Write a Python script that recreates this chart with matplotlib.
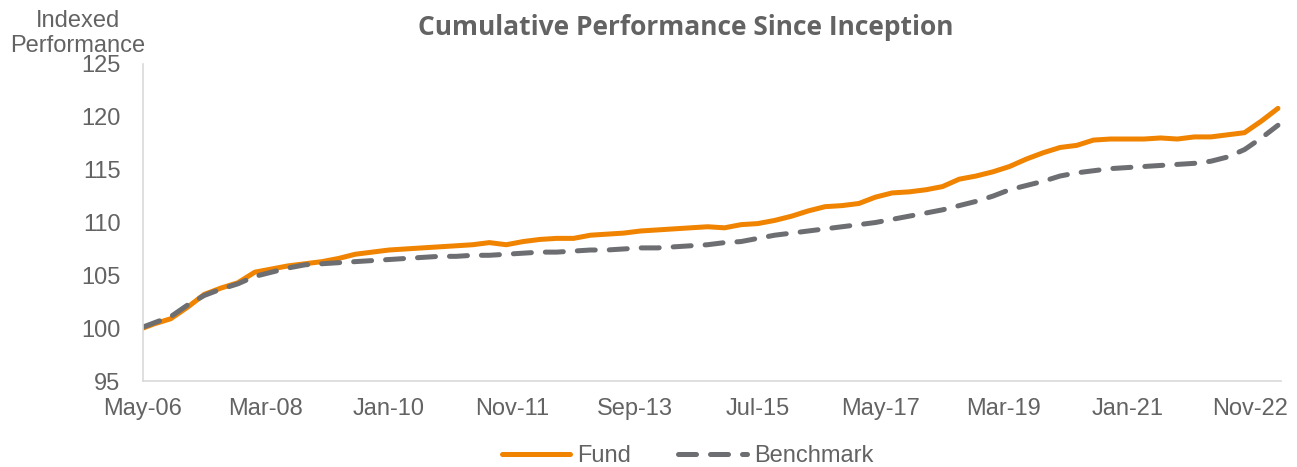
import numpy as np
import pandas as pd
import matplotlib.pyplot as plt
import matplotlib.dates as mdates

# quarterly points (first point May-06, then every 3 months from Jul-06 to Apr-23)
dates = pd.DatetimeIndex(['2006-05-01']).append(pd.date_range('2006-07-01', '2023-04-01', freq='3MS'))

fund = [100.0, 100.4, 100.9, 102.0, 103.2, 103.8, 104.3, 105.3, 105.6, 105.9,
        106.1, 106.3, 106.6, 107.0, 107.2, 107.4, 107.5, 107.6, 107.7, 107.8,
        107.9, 108.1, 107.9, 108.2, 108.4, 108.5, 108.5, 108.8, 108.9, 109.0,
        109.2, 109.3, 109.4, 109.5, 109.6, 109.5, 109.8, 109.9, 110.2, 110.6,
        111.1, 111.5, 111.6, 111.8, 112.4, 112.8, 112.9, 113.1, 113.4, 114.1,
        114.4, 114.8, 115.3, 116.0, 116.6, 117.1, 117.3, 117.8, 117.9, 117.9,
        117.9, 118.0, 117.9, 118.1, 118.1, 118.3, 118.5, 119.6, 120.8]

benchmark = [100.1, 100.5, 101.1, 102.2, 103.1, 103.7, 104.2, 104.9, 105.3, 105.7,
             106.0, 106.1, 106.2, 106.3, 106.4, 106.5, 106.6, 106.7, 106.8, 106.8,
             106.9, 106.9, 107.0, 107.1, 107.2, 107.2, 107.3, 107.4, 107.4, 107.5,
             107.6, 107.6, 107.7, 107.8, 107.9, 108.1, 108.2, 108.5, 108.8, 109.0,
             109.2, 109.4, 109.6, 109.8, 110.0, 110.3, 110.6, 110.9, 111.2, 111.6,
             112.0, 112.5, 113.1, 113.5, 113.9, 114.4, 114.7, 114.9, 115.1, 115.2,
             115.3, 115.4, 115.5, 115.6, 115.8, 116.2, 116.9, 118.0, 119.2]

tick_dates = pd.date_range('2006-05-01', '2022-11-01', freq='22MS')

txt = '#636363'
plt.rcParams['font.family'] = ['Liberation Sans', 'DejaVu Sans']

fig = plt.figure(figsize=(12.97, 4.67), dpi=100)
ax = fig.add_axes([0.110, 0.184, 0.878, 0.679])

ax.plot(dates, fund, color='#F08300', lw=3.6, label='Fund', solid_capstyle='round')
ax.plot(dates, benchmark, color='#6D6E71', lw=3.6, ls=(0, (3.6, 2.8)),
        dash_capstyle='round', label='Benchmark')

ax.set_ylim(95, 125)
ax.set_yticks(np.arange(95, 126, 5))
ax.set_xlim(dates[0], pd.Timestamp('2023-04-20'))
ax.set_xticks(tick_dates)
ax.xaxis.set_major_formatter(mdates.DateFormatter('%b-%y'))

for s in ['top', 'right']:
    ax.spines[s].set_visible(False)
for s in ['left', 'bottom']:
    ax.spines[s].set_color('#D9D9D9')
    ax.spines[s].set_linewidth(1.2)
ax.tick_params(axis='both', length=0, labelsize=17, labelcolor=txt)
ax.tick_params(axis='x', pad=12)
ax.tick_params(axis='y', pad=16)

fig.text(0.529, 0.942, 'Cumulative Performance Since Inception', ha='center', va='center',
         fontsize=19, fontweight='bold', color=txt, family=['Open Sans', 'DejaVu Sans'])
fig.text(0.06, 0.928, 'Indexed\nPerformance', ha='center', va='center',
         fontsize=17, color=txt, linespacing=1.15)

fig.legend(loc='center', bbox_to_anchor=(0.53, 0.024), ncol=2, frameon=False,
           fontsize=17, handlelength=2.9, columnspacing=2.0, handletextpad=0.3,
           labelcolor=txt)

fig.savefig('out.png', dpi=100)
